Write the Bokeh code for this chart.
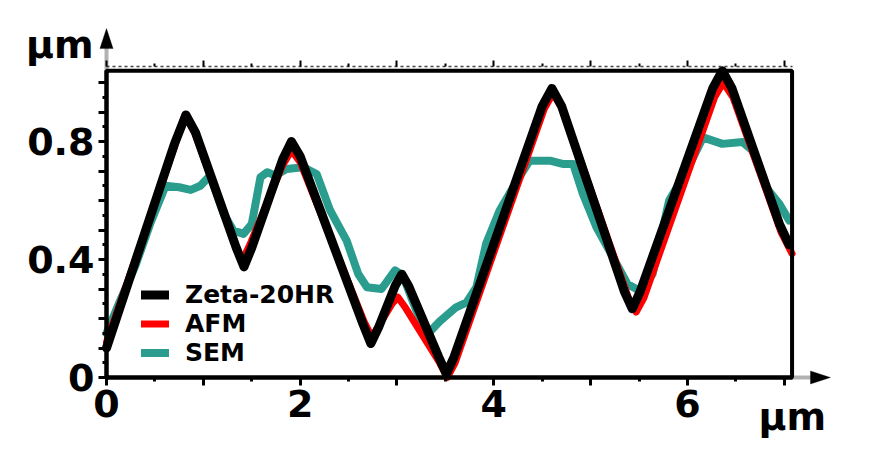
from bokeh.plotting import figure
from bokeh.models import (Range1d, FixedTicker, CustomJSTickFormatter, LinearAxis,
                          Legend, LegendItem, Label, PolyAnnotation, BoxAnnotation)
from bokeh.embed import file_html
from bokeh.resources import INLINE

# ---------------- data ----------------
x_zeta = [0.00, 0.70, 0.82, 0.92, 1.34, 1.42, 1.50, 1.82, 1.91, 2.00, 2.65, 2.73, 2.81, 2.98, 3.05,
          3.12, 3.43, 3.51, 3.59, 4.50, 4.60, 4.70, 5.35, 5.43, 5.51, 6.26, 6.36, 6.46, 6.95, 7.05]
y_zeta = [0.10, 0.79, 0.89, 0.83, 0.44, 0.375, 0.44, 0.74, 0.80, 0.75, 0.18, 0.115, 0.17, 0.31, 0.35,
          0.31, 0.07, 0.012, 0.07, 0.92, 0.98, 0.92, 0.29, 0.233, 0.29, 0.98, 1.04, 0.98, 0.52, 0.45]

x_afm = [0.00, 0.70, 0.81, 0.91, 1.33, 1.40, 1.48, 1.82, 1.91, 2.00, 2.66, 2.74, 2.82, 2.95, 3.01,
         3.08, 3.44, 3.52, 3.60, 4.52, 4.61, 4.71, 5.39, 5.47, 5.55, 6.28, 6.37, 6.47, 6.97, 7.08]
y_afm = [0.12, 0.78, 0.89, 0.83, 0.45, 0.395, 0.45, 0.72, 0.77, 0.73, 0.19, 0.137, 0.18, 0.25, 0.272,
         0.24, 0.05, 0.0, 0.05, 0.91, 0.963, 0.91, 0.27, 0.222, 0.27, 0.95, 1.0, 0.95, 0.49, 0.42]

x_sem = [0.00, 0.14, 0.30, 0.45, 0.61, 0.75, 0.87, 0.97, 1.07, 1.21, 1.31, 1.415, 1.50, 1.59, 1.66,
         1.74, 1.86, 2.03, 2.17, 2.31, 2.48, 2.60, 2.69, 2.84, 2.98, 3.06, 3.20, 3.32, 3.44, 3.61,
         3.72, 3.82, 3.92, 4.06, 4.22, 4.37, 4.58, 4.71, 4.82, 4.92, 5.06, 5.23, 5.38, 5.50, 5.64,
         5.81, 5.99, 6.16, 6.36, 6.57, 6.67, 6.81, 6.95, 7.05]
y_sem = [0.15, 0.26, 0.38, 0.52, 0.65, 0.645, 0.636, 0.65, 0.685, 0.555, 0.498, 0.487, 0.52, 0.679, 0.696,
         0.685, 0.707, 0.713, 0.69, 0.566, 0.464, 0.351, 0.306, 0.30, 0.363, 0.346, 0.227, 0.148, 0.19, 0.238,
         0.255, 0.306, 0.453, 0.566, 0.656, 0.735, 0.735, 0.724, 0.724, 0.622, 0.509, 0.408, 0.317, 0.295, 0.351,
         0.60, 0.70, 0.814, 0.792, 0.798, 0.77, 0.645, 0.588, 0.532]

series_names = ["Zeta-20HR", "AFM", "SEM"]
series_colors = ["#000000", "#ff0000", "#2a9d8f"]

x_label_ticks = [0, 2, 4, 6]
x_label_text = ["0", "2", "4", "6"]
x_long_ticks = [1, 3, 5, 7]
x_short_ticks = [0.5, 1.5, 2.5, 3.5, 4.5, 5.5, 6.5]

y_label_ticks = [0, 0.4, 0.8]
y_label_text = ["0", "0.4", "0.8"]
y_long_ticks = [0.1, 0.2, 0.3, 0.5, 0.6, 0.7, 0.9, 1.0]
y_short_ticks = [0.05, 0.15, 0.25, 0.35, 0.45, 0.55, 0.65, 0.75, 0.85, 0.95]

unit_text = "µm"

# plot box (data extent of the framed area)
X_END = 7.08
Y_END = 1.04

FONT = "DejaVu Sans"

# ---------------- figure ----------------
# The drawing area covers the whole canvas so that the arrows and unit texts
# outside the framed box are not clipped; axes are pinned with fixed_location.
p = figure(width=880, height=455, output_backend="svg", toolbar_location=None,
           x_range=Range1d(-1.0947, 7.9934), y_range=Range1d(-0.2644, 1.278),
           min_border=0, x_axis_type=None, y_axis_type=None)
p.outline_line_color = None
p.grid.visible = False
p.background_fill_color = "white"
p.border_fill_color = "white"

fmt_code = """
for (let i = 0; i < vals.length; i++) {
  if (Math.abs(vals[i] - tick) < 1e-6) return texts[i];
}
return String(tick);
"""


def style_ticks(ax, major_len, minor_len, width=3):
    ax.major_tick_line_width = width
    ax.minor_tick_line_width = width
    ax.major_tick_line_color = "black"
    ax.minor_tick_line_color = "black"
    ax.major_tick_in = 0
    ax.minor_tick_in = 0
    ax.major_tick_out = major_len
    ax.minor_tick_out = minor_len


xaxis = LinearAxis(ticker=FixedTicker(ticks=x_label_ticks, minor_ticks=x_short_ticks),
                   formatter=CustomJSTickFormatter(args=dict(vals=x_label_ticks, texts=x_label_text), code=fmt_code),
                   fixed_location=0, bounds=(0, X_END))
yaxis = LinearAxis(ticker=FixedTicker(ticks=y_label_ticks, minor_ticks=y_short_ticks),
                   formatter=CustomJSTickFormatter(args=dict(vals=y_label_ticks, texts=y_label_text), code=fmt_code),
                   fixed_location=0, bounds=(0, Y_END))
for ax in (xaxis, yaxis):
    ax.axis_line_width = 4
    ax.axis_line_color = "black"
    style_ticks(ax, 8, 4)
    ax.major_label_text_font = FONT
    ax.major_label_text_font_style = "bold"
    ax.major_label_text_font_size = "38px"
    ax.major_label_text_color = "black"
    ax.major_label_standoff = 4
p.add_layout(xaxis, "below")
p.add_layout(yaxis, "left")

# extra long (unlabelled) ticks drawn on the same axis lines
xaxis2 = LinearAxis(ticker=FixedTicker(ticks=[], minor_ticks=x_long_ticks), fixed_location=0)
yaxis2 = LinearAxis(ticker=FixedTicker(ticks=[], minor_ticks=y_long_ticks), fixed_location=0)
for ax in (xaxis2, yaxis2):
    ax.axis_line_color = None
    style_ticks(ax, 8, 8)
p.add_layout(xaxis2, "below")
p.add_layout(yaxis2, "left")

# top dotted axis with small ticks, just above the box
top_axis = LinearAxis(ticker=FixedTicker(ticks=[], minor_ticks=x_long_ticks + x_label_ticks),
                      fixed_location=1.054, bounds=(0, X_END))
top_axis.axis_line_color = "#444444"
top_axis.axis_line_width = 1.5
top_axis.axis_line_dash = "3 3"
style_ticks(top_axis, 6, 6, width=2)
p.add_layout(top_axis, "above")
top_axis2 = LinearAxis(ticker=FixedTicker(ticks=[], minor_ticks=x_short_ticks), fixed_location=1.054)
top_axis2.axis_line_color = None
style_ticks(top_axis2, 3, 3, width=2)
p.add_layout(top_axis2, "above")

# data lines
r_sem = p.line(x_sem, y_sem, line_color=series_colors[2], line_width=8,
               line_join="round", line_cap="round")
r_afm = p.line(x_afm, y_afm, line_color=series_colors[1], line_width=7,
               line_join="round", line_cap="round")
r_zeta = p.line(x_zeta, y_zeta, line_color=series_colors[0], line_width=9,
                line_join="round", line_cap="round")

# box frame
p.add_layout(BoxAnnotation(left=0, right=X_END, bottom=0, top=Y_END, fill_alpha=0, fill_color=None,
                           line_color="black", line_width=4, line_alpha=1))

legend = Legend(items=[LegendItem(label=series_names[0], renderers=[r_zeta]),
                       LegendItem(label=series_names[1], renderers=[r_afm]),
                       LegendItem(label=series_names[2], renderers=[r_sem])],
                location=(141, 88))
legend.border_line_color = None
legend.background_fill_alpha = 0
legend.padding = 0
legend.margin = 0
legend.spacing = -3
legend.glyph_width = 28
legend.glyph_height = 27
legend.label_height = 27
legend.label_standoff = 16
legend.label_text_font = FONT
legend.label_text_font_style = "bold"
legend.label_text_font_size = "25px"
legend.label_text_color = "black"
p.add_layout(legend, "center")

# unit labels
p.add_layout(Label(x=-0.134, y=1.126, text=unit_text, text_align="right", text_baseline="alphabetic",
                   text_font=FONT, text_font_style="bold", text_font_size="38px", text_color="black"))
p.add_layout(Label(x=6.733, y=-0.135, text=unit_text, text_align="left", text_baseline="alphabetic",
                   text_font=FONT, text_font_style="bold", text_font_size="38px", text_color="black"))

# axis arrows (shaft extensions + heads)
p.add_layout(PolyAnnotation(xs=[0, 0], ys=[Y_END, 1.13], line_color="black", line_width=4,
                            fill_color=None))
p.add_layout(PolyAnnotation(xs=[0, -0.068, 0.068], ys=[1.183, 1.115, 1.115], line_color="black",
                            line_width=1, fill_color="black", fill_alpha=1))
p.add_layout(PolyAnnotation(xs=[X_END, 7.3], ys=[0, 0], line_color="black", line_width=4,
                            fill_color=None))
p.add_layout(PolyAnnotation(xs=[7.477, 7.27, 7.27], ys=[0, 0.022, -0.022], line_color="black",
                            line_width=1, fill_color="black", fill_alpha=1))

open("out.html", "w").write(file_html(p, INLINE))
